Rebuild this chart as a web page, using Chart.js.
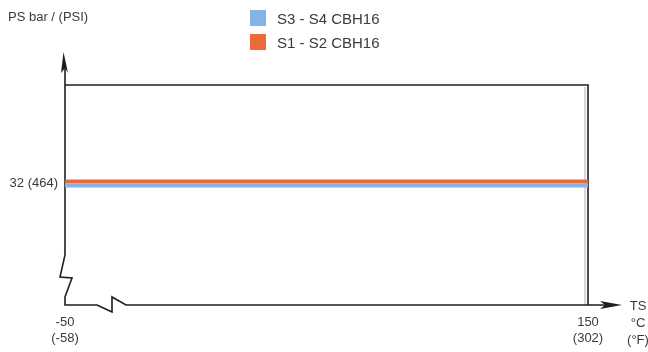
<!DOCTYPE html>
<html>
<head>
<meta charset="utf-8">
<script src="https://cdn.jsdelivr.net/npm/chart.js@4/dist/chart.umd.min.js"></script>
<style>
  html, body { margin: 0; padding: 0; background: #fff; }
  #wrap { position: relative; width: 648px; height: 352px; font-family: 'Liberation Sans', Arial, sans-serif; color: #3a3a3a; }
  canvas { position: absolute; left: 0; top: 0; }
  .lbl { position: absolute; font-size: 13px; line-height: 17px; white-space: nowrap; }
  .legend { position: absolute; left: 250px; top: 10px; font-size: 15px; }
  .legend div { display: flex; align-items: center; height: 16px; margin-bottom: 8px; }
  .legend span.box { display: inline-block; width: 16px; height: 16px; margin-right: 11px; }
</style>
</head>
<body>
<div id="wrap">
  <canvas id="grafica" width="648" height="352"></canvas>
  <div class="lbl" style="left:8px; top:8px;">PS bar / (PSI)</div>
  <div class="lbl" style="left:624px; top:297px; text-align:center; width:28px;">TS<br>°C<br>(°F)</div>
  <div class="legend" id="leyenda"></div>
</div>
<script>
// Datos
const temperaturas = [-50, 150];            // TS °C
const etiquetasX = { '-50': ['-50', '(-58)'], '150': ['150', '(302)'] };
const series = ['S3 - S4 CBH16', 'S1 - S2 CBH16'];
const presionS3S4 = [32, 32];               // PS bar
const presionS1S2 = [32, 32];
const ticksY = [32];
const etiquetasY = { '32': '32 (464)' };

const COLORES = { azul: '#85b4e4', naranja: '#ec6939', eje: '#1e1e1e', texto: '#3a3a3a' };

// leyenda HTML (apilada vertical)
const leyenda = document.getElementById('leyenda');
[[series[0], COLORES.azul], [series[1], COLORES.naranja]].forEach(([txt, col]) => {
  const fila = document.createElement('div');
  fila.innerHTML = `<span class="box" style="background:${col}"></span>${txt}`;
  leyenda.appendChild(fila);
});

// Desplaza cada serie unos px para que no se tapen (estilo, no dato)
const desplazamiento = {
  id: 'desplazamiento',
  beforeDatasetDraw(chart, args) {
    const dy = args.index === 0 ? 2 : -2;
    chart.ctx.save();
    chart.ctx.translate(0, dy);
  },
  afterDatasetDraw(chart) {
    chart.ctx.restore();
  }
};

// Marco con ejes quebrados y flechas
const marco = {
  id: 'marco',
  beforeDatasetsDraw(chart) {
    const { ctx, chartArea: a } = chart;
    const L = a.left, R = a.right, T = a.top, B = a.bottom;
    ctx.save();
    ctx.strokeStyle = '#d6d6d6';
    ctx.lineWidth = 2;
    ctx.beginPath(); ctx.moveTo(R - 3, T + 2); ctx.lineTo(R - 3, B); ctx.stroke();

    ctx.strokeStyle = COLORES.eje;
    ctx.lineWidth = 1.6;
    ctx.lineJoin = 'miter';
    // superior y derecho
    ctx.beginPath();
    ctx.moveTo(L, T); ctx.lineTo(R, T); ctx.lineTo(R, B);
    ctx.stroke();
    // eje Y con quiebre
    ctx.beginPath();
    ctx.moveTo(L, T - 22);
    ctx.lineTo(L, B - 50);
    ctx.lineTo(L - 5, B - 28);
    ctx.lineTo(L + 7, B - 27);
    ctx.lineTo(L, B - 8);
    ctx.lineTo(L, B);
    // eje X con quiebre
    ctx.lineTo(L + 32, B);
    ctx.lineTo(L + 47, B + 7);
    ctx.lineTo(L + 47, B - 8);
    ctx.lineTo(L + 61, B);
    ctx.lineTo(R + 20, B);
    ctx.stroke();
    // flechas
    ctx.fillStyle = COLORES.eje;
    ctx.beginPath();
    ctx.moveTo(L - 1.5, T - 33);
    ctx.lineTo(L + 3, T - 12);
    ctx.lineTo(L, T - 17);
    ctx.lineTo(L - 4, T - 12);
    ctx.closePath(); ctx.fill();
    ctx.beginPath();
    ctx.moveTo(R + 34, B);
    ctx.lineTo(R + 12, B - 4);
    ctx.lineTo(R + 17, B);
    ctx.lineTo(R + 12, B + 4);
    ctx.closePath(); ctx.fill();
    ctx.restore();
  }
};

const fuente = { family: "'Liberation Sans', Arial, sans-serif", size: 13 };

new Chart(document.getElementById('grafica').getContext('2d'), {
  type: 'line',
  data: {
    datasets: [
      {
        label: series[0],
        data: temperaturas.map((t, i) => ({ x: t, y: presionS3S4[i] })),
        borderColor: COLORES.azul,
        borderWidth: 4,
        pointRadius: 0,
        borderCapStyle: 'butt'
      },
      {
        label: series[1],
        data: temperaturas.map((t, i) => ({ x: t, y: presionS1S2[i] })),
        borderColor: COLORES.naranja,
        borderWidth: 4,
        pointRadius: 0,
        borderCapStyle: 'butt'
      }
    ]
  },
  options: {
    responsive: false,
    animation: false,
    events: [],
    layout: { padding: { left: 0, top: 85, right: 60, bottom: 0 } },
    plugins: { legend: { display: false }, tooltip: { enabled: false } },
    scales: {
      x: {
        type: 'linear',
        min: temperaturas[0],
        max: temperaturas[1],
        grid: { display: false, drawTicks: false },
        border: { display: false },
        afterBuildTicks: (s) => { s.ticks = temperaturas.map(v => ({ value: v })); },
        afterFit: (s) => { s.height = 47; },
        ticks: {
          color: COLORES.texto,
          font: fuente,
          padding: 10,
          maxRotation: 0,
          autoSkip: false,
          callback: (v) => etiquetasX[String(v)] || ''
        }
      },
      y: {
        min: 0,
        max: 58,
        grid: { display: false, drawTicks: false },
        border: { display: false },
        afterBuildTicks: (s) => { s.ticks = ticksY.map(v => ({ value: v })); },
        afterFit: (s) => { s.width = 65; },
        ticks: {
          color: COLORES.texto,
          font: fuente,
          padding: 7,
          callback: (v) => etiquetasY[String(v)] || ''
        }
      }
    }
  },
  plugins: [marco, desplazamiento]
});
</script>
</body>
</html>
